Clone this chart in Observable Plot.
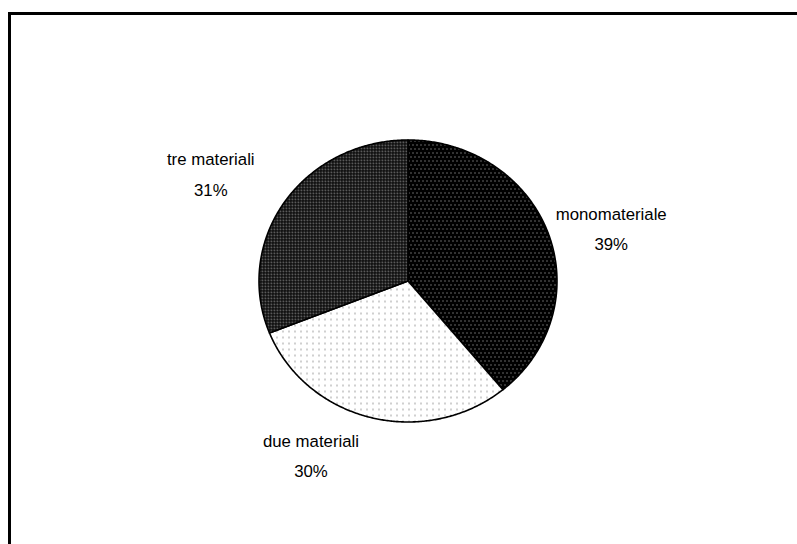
<!DOCTYPE html>
<html>
<head>
<meta charset="utf-8">
<script src="https://cdn.jsdelivr.net/npm/d3@7"></script>
<script src="https://cdn.jsdelivr.net/npm/@observablehq/plot@0.6"></script>
<style>
  html, body { margin: 0; padding: 0; background: #fff; overflow: hidden; }
  #wrap { position: relative; width: 797px; height: 544px; overflow: hidden; }
  #frame { position: absolute; left: 8px; top: 12px; width: 1000px; height: 1000px;
           border-top: 3px solid #000; border-left: 3px solid #000; pointer-events: none; }
  #chart { position: absolute; left: 0; top: 0; }
</style>
</head>
<body>
<svg width="0" height="0" style="position:absolute">
  <defs>
    <pattern id="pMono" width="4" height="8" patternUnits="userSpaceOnUse">
      <rect width="4" height="8" fill="#000"/>
      <rect x="0" y="0" width="1" height="1" fill="#c8c8c8"/>
      <rect x="2" y="4" width="1" height="1" fill="#c8c8c8"/>
    </pattern>
    <pattern id="pDue" width="6" height="6" patternUnits="userSpaceOnUse">
      <rect width="6" height="6" fill="#fff"/>
      <rect x="0" y="0" width="1" height="2" fill="#a0a0a0"/>
    </pattern>
    <pattern id="pTre" width="3" height="3" patternUnits="userSpaceOnUse">
      <rect width="3" height="3" fill="#000"/>
      <rect x="0" y="0" width="2" height="2" fill="#505050"/>
      <rect x="0" y="0" width="1" height="1" fill="#7a7a7a"/>
    </pattern>
  </defs>
</svg>
<div id="wrap">
  <div id="chart"></div>
  <div id="frame"></div>
</div>
<script>
const categories = ["monomateriale", "due materiali", "tre materiali"];
const shares = [39, 30, 31];
const pctLabels = ["39%", "30%", "31%"];
const fills = ["url(#pMono)", "url(#pDue)", "url(#pTre)"];

const total = d3.sum(shares);
const points = [];
const labelData = [];
let acc = 0;
categories.forEach((cat, i) => {
  const a0 = acc / total * 2 * Math.PI;
  acc += shares[i];
  const a1 = acc / total * 2 * Math.PI;
  points.push({cat, x: 0, y: 0});
  const n = Math.max(2, Math.ceil((a1 - a0) / (Math.PI / 360)));
  for (let k = 0; k <= n; k++) {
    const a = a0 + (a1 - a0) * k / n;
    points.push({cat, x: Math.sin(a), y: Math.cos(a)});
  }
  points.push({cat, x: 0, y: 0});
  const am = (a0 + a1) / 2;
  labelData.push({cat, x: Math.sin(am), y: Math.cos(am), text: `${cat}\n${pctLabels[i]}`});
});

const offsets = {
  "monomateriale": [63, -8],
  "due materiali": [-60, 35],
  "tre materiali": [-74, -31]
};

const chart = Plot.plot({
  width: 797,
  height: 544,
  margin: 0,
  style: {background: "transparent"},
  x: {domain: [-1, 1], range: [258.5, 556.5], axis: null},
  y: {domain: [-1, 1], range: [421.5, 139.5], axis: null},
  color: {domain: categories, range: fills},
  marks: [
    Plot.line(points, {x: "x", y: "y", z: "cat", fill: "cat", stroke: "#000", strokeWidth: 1.6, strokeLinejoin: "round"}),
    ...categories.map(cat => Plot.text(labelData.filter(d => d.cat === cat), {
      x: "x", y: "y", text: "text",
      dx: offsets[cat][0], dy: offsets[cat][1],
      textAnchor: "middle", lineHeight: 1.8,
      fontSize: 16.8, fontFamily: "'Liberation Sans', Arial, sans-serif", fill: "#000"
    }))
  ]
});
document.getElementById("chart").appendChild(chart);
</script>
</body>
</html>
